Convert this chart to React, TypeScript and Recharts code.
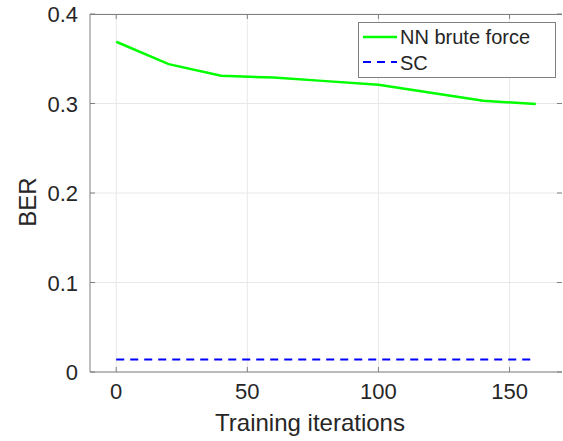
import React from 'react';
import { LineChart, Line, XAxis, YAxis, CartesianGrid, Label } from 'recharts';

// values
const iterations = [0, 20, 40, 60, 80, 100, 120, 140, 160];
const nnBruteForce = [0.369, 0.344, 0.331, 0.329, 0.325, 0.321, 0.312, 0.303, 0.2995];
const scBer = [0.014, 0.014, 0.014, 0.014, 0.014, 0.014, 0.014, 0.014, 0.014];
const xTicks = [0, 50, 100, 150];
const yTicks = [0, 0.1, 0.2, 0.3, 0.4];

const data = iterations.map((it, i) => ({ it, nn: nnBruteForce[i], sc: scBer[i] }));

const W = 563;
const H = 441;
const TOP = 14;
const BOTTOM = 372;
const LEFT = 90;
const RIGHT = 562;
const FONT = '"Liberation Sans", Arial, Helvetica, sans-serif';
const TEXT = '#262626';
const AXIS = '#808080';

const XTick = (props: any) => {
  const { x, payload } = props;
  return (
    <g>
      <line x1={x} x2={x} y1={BOTTOM} y2={BOTTOM - 5} stroke={AXIS} />
      <line x1={x} x2={x} y1={TOP} y2={TOP + 5} stroke={AXIS} />
      <text x={x} y={399} textAnchor="middle" fontSize={22} fill={TEXT} fontFamily={FONT}>
        {payload.value}
      </text>
    </g>
  );
};

const YTick = (props: any) => {
  const { y, payload } = props;
  return (
    <g>
      <line x1={LEFT} x2={LEFT + 5} y1={y} y2={y} stroke={AXIS} />
      <line x1={RIGHT} x2={RIGHT - 5} y1={y} y2={y} stroke={AXIS} />
      <text x={78} y={y + 8} textAnchor="end" fontSize={22} fill={TEXT} fontFamily={FONT}>
        {payload.value}
      </text>
    </g>
  );
};

export default function App() {
  return (
    <div style={{ position: 'fixed', left: 0, top: 0, width: W, height: H, background: '#fff' }}>
      <LineChart
        width={W}
        height={H}
        data={data}
        margin={{ top: TOP, right: W - RIGHT, bottom: 0, left: 0 }}
      >
        <CartesianGrid stroke="#e8e8e8" vertical horizontal verticalValues={xTicks} horizontalValues={yTicks} />
        <XAxis
          dataKey="it"
          type="number"
          domain={[-10, 170]}
          ticks={xTicks}
          allowDataOverflow
          height={H - BOTTOM}
          stroke={AXIS}
          tickLine={false}
          tick={<XTick />}
        >
          <Label
            content={() => (
              <text x={310} y={431} textAnchor="middle" fontSize={24} fill={TEXT} fontFamily={FONT}>
                Training iterations
              </text>
            )}
          />
        </XAxis>
        <YAxis
          type="number"
          domain={[0, 0.4]}
          ticks={yTicks}
          width={LEFT}
          stroke={AXIS}
          tickLine={false}
          tick={<YTick />}
        >
          <Label
            content={() => (
              <text
                x={27}
                y={202}
                textAnchor="middle"
                dominantBaseline="central"
                fontSize={24}
                fill={TEXT}
                fontFamily={FONT}
                transform="rotate(-90 27 202)"
              >
                BER
              </text>
            )}
          />
        </YAxis>
        <Line dataKey="nn" stroke="#00ff00" strokeWidth={2.5} dot={false} isAnimationActive={false} />
        <Line dataKey="sc" stroke="#0000ff" strokeWidth={2} strokeDasharray="8 6" dot={false} isAnimationActive={false} />
      </LineChart>
      <svg width={W} height={H} style={{ position: 'absolute', left: 0, top: 0, pointerEvents: 'none' }}>
        <line x1={LEFT} x2={RIGHT} y1={TOP + 0.5} y2={TOP + 0.5} stroke={AXIS} />
        <rect x={358.5} y={22.5} width={197} height={55} fill="#fff" stroke={AXIS} />
        <line x1={363} x2={397} y1={37} y2={37} stroke="#00ff00" strokeWidth={2.5} />
        <line x1={363} x2={397} y1={62} y2={62} stroke="#0000ff" strokeWidth={2} strokeDasharray="8 6" />
        <text x={400} y={44} fontSize={20} fill={TEXT} fontFamily={FONT}>NN brute force</text>
        <text x={400} y={70} fontSize={20} fill={TEXT} fontFamily={FONT}>SC</text>
      </svg>
    </div>
  );
}
